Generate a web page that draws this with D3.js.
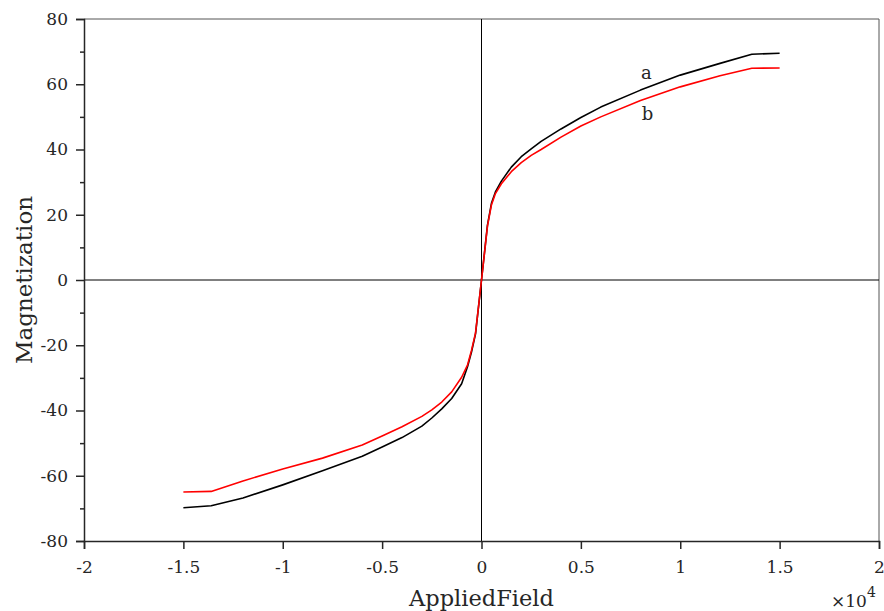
<!DOCTYPE html>
<html>
<head>
<meta charset="utf-8">
<script src="https://cdn.jsdelivr.net/npm/d3@7"></script>
<style>
    body { margin: 0; background: #fff; }
    text { font-family: "DejaVu Serif", "Liberation Serif", serif; fill: #262626; }
</style>
</head>
<body>
<div id="chart"></div>
<script>
// applied field (Oe)
let field = [-15000, -13600, -12000, -10000, -8000, -6000, -5000, -4000, -3000, -2500, -2000, -1500, -1000, -700, -500, -300, 0,
    300, 500, 700, 1000, 1500, 2000, 2500, 3000, 4000, 5000, 6000, 8000, 10000, 12000, 13600, 15000];

// sample a (black)
let magA = [-69.8, -69.2, -66.8, -62.8, -58.5, -54.0, -51.2, -48.3, -44.8, -42.3, -39.5, -36.3, -31.8, -26.5, -22.0, -16.5, 0,
    16.8, 23.5, 27.0, 30.3, 34.6, 37.8, 40.2, 42.5, 46.3, 49.8, 53.0, 58.2, 62.8, 66.4, 69.2, 69.5];

// sample b (red)
let magB = [-65.0, -64.8, -61.6, -57.9, -54.6, -50.6, -47.8, -45.0, -41.8, -39.8, -37.4, -34.3, -29.8, -26.0, -21.5, -16.2, 0,
    16.5, 23.0, 26.5, 29.5, 33.2, 36.0, 38.2, 40.0, 43.8, 47.2, 50.0, 55.0, 59.2, 62.6, 64.9, 65.0];

let xTicks = [-2, -1.5, -1, -0.5, 0, 0.5, 1, 1.5, 2];
let yTicks = [-80, -60, -40, -20, 0, 20, 40, 60, 80];
let yMinor = [-70, -50, -30, -10, 10, 30, 50, 70];

let labels = [
    { text: "a", x: 8300, y: 63.5 },
    { text: "b", x: 8350, y: 51.0 }
];

let drawChart = () => {
    var width = 884
    var height = 611
    var margin = { left: 84, right: 5, top: 19, bottom: 70 }

    var svg = d3.select("#chart")
        .append("svg")
        .attr("width", width)
        .attr("height", height)

    var x = d3.scaleLinear()
        .domain([-2, 2])
        .range([margin.left, width - margin.right])

    var y = d3.scaleLinear()
        .domain([-80, 80])
        .range([height - margin.bottom, margin.top])

    // box top and right
    svg.append("line")
        .attr("x1", x(-2)).attr("x2", x(2))
        .attr("y1", y(80)).attr("y2", y(80))
        .attr("stroke", "#555").attr("stroke-width", 1)
    svg.append("line")
        .attr("x1", x(2)).attr("x2", x(2))
        .attr("y1", y(80)).attr("y2", y(-80))
        .attr("stroke", "#555").attr("stroke-width", 1)

    // zero lines
    svg.append("line")
        .attr("x1", x(-2)).attr("x2", x(2))
        .attr("y1", y(0)).attr("y2", y(0))
        .attr("stroke", "#000").attr("stroke-width", 1)
    svg.append("line")
        .attr("x1", x(0)).attr("x2", x(0))
        .attr("y1", y(80)).attr("y2", y(-80))
        .attr("stroke", "#000").attr("stroke-width", 1)

    // axes (plain hyphen for negatives)
    svg.append("g")
        .attr("transform", "translate(0," + y(-80) + ")")
        .call(d3.axisBottom(x).tickValues(xTicks).tickSize(8).tickPadding(12)
            .tickFormat(d => String(d)))
    svg.append("g")
        .attr("transform", "translate(" + x(-2) + ",0)")
        .call(d3.axisLeft(y).tickValues(yTicks).tickSize(8).tickPadding(8)
            .tickFormat(d => String(d)))
    svg.append("g")
        .attr("transform", "translate(" + x(-2) + ",0)")
        .call(d3.axisLeft(y).tickValues(yMinor).tickSize(4).tickFormat(""))
        .call(g => g.select(".domain").remove())

    svg.selectAll(".domain").attr("stroke", "#262626").attr("stroke-width", 1.5)
    svg.selectAll(".tick line").attr("stroke", "#262626").attr("stroke-width", 1.5)
    svg.selectAll(".tick text")
        .style("font-family", "'DejaVu Serif', serif")
        .style("font-size", "17px")
        .attr("fill", "#262626")

    // curves
    var line = d3.line()
        .x((d) => x(d[0] / 1e4))
        .y((d) => y(d[1]))

    svg.append("path")
        .datum(d3.zip(field, magA))
        .attr("d", line)
        .attr("fill", "none")
        .attr("stroke", "#000")
        .attr("stroke-width", 1.6)
        .attr("stroke-linejoin", "round")

    svg.append("path")
        .datum(d3.zip(field, magB))
        .attr("d", line)
        .attr("fill", "none")
        .attr("stroke", "#ff0000")
        .attr("stroke-width", 1.6)
        .attr("stroke-linejoin", "round")

    // curve labels
    svg.selectAll(".lbl")
        .data(labels)
        .enter()
        .append("text")
        .attr("class", "lbl")
        .attr("x", (d) => x(d.x / 1e4))
        .attr("y", (d) => y(d.y))
        .attr("dy", "0.35em")
        .attr("text-anchor", "middle")
        .style("font-size", "18px")
        .attr("fill", "#000")
        .text((d) => d.text)

    // axis titles
    svg.append("text")
        .attr("x", x(0))
        .attr("y", 606)
        .attr("text-anchor", "middle")
        .style("font-size", "22.5px")
        .text("AppliedField")

    svg.append("text")
        .attr("transform", "translate(32," + y(0) + ") rotate(-90)")
        .attr("text-anchor", "middle")
        .style("font-size", "23px")
        .text("Magnetization")

    // exponent
    var expo = svg.append("text")
        .attr("x", 831)
        .attr("y", 607)
        .style("font-size", "17px")
    expo.append("tspan").text("\u00d710")
    expo.append("tspan").attr("dy", -10).style("font-size", "14px").text("4")
}

document.addEventListener("DOMContentLoaded", () => {
    drawChart();
});
</script>
</body>
</html>
